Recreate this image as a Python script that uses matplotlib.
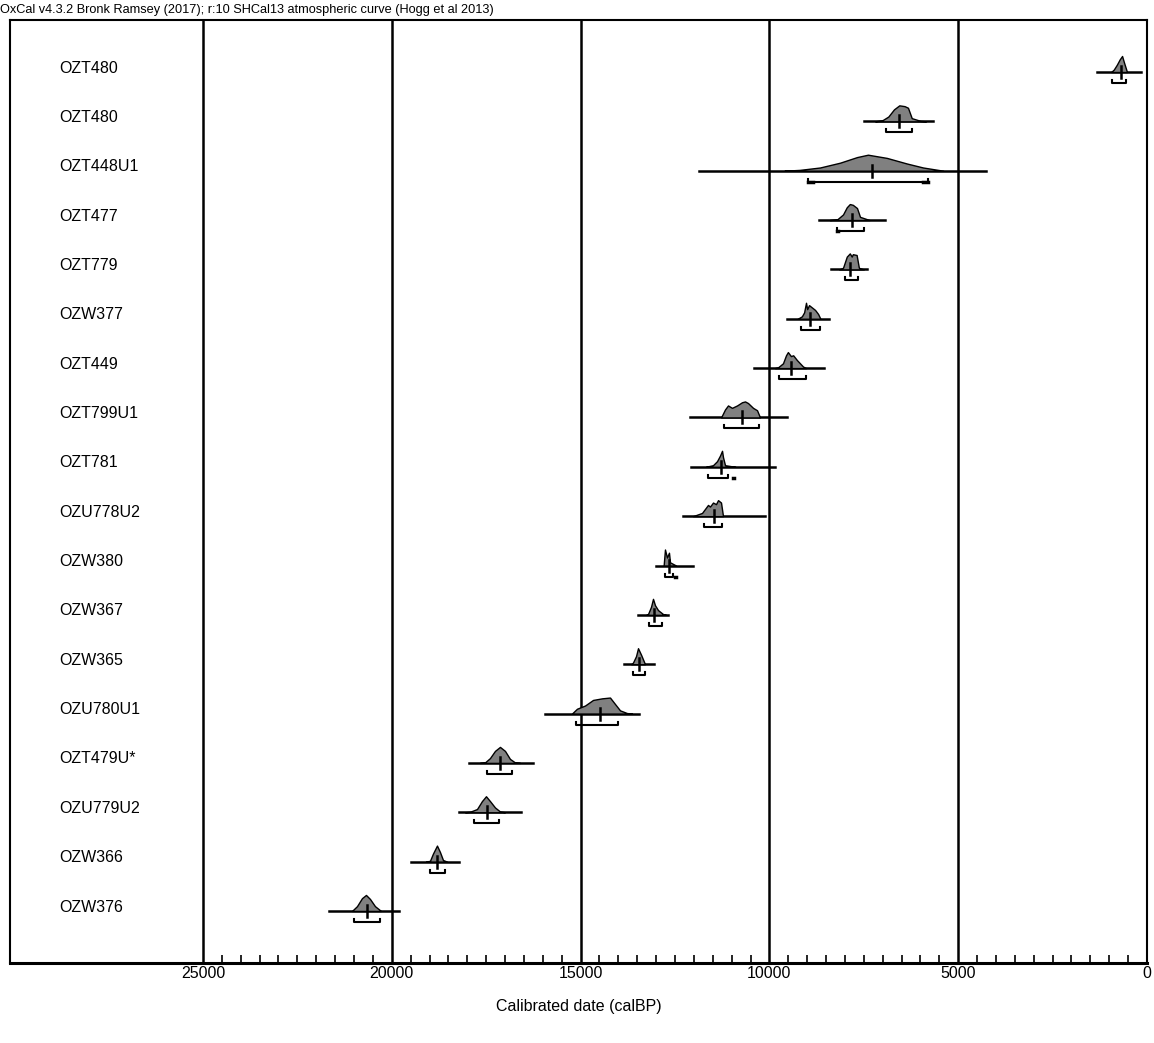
import numpy as np
import matplotlib
matplotlib.use('Agg')
import matplotlib.pyplot as plt
from matplotlib.ticker import FixedLocator

plt.rcParams['font.family'] = ['Liberation Sans', 'DejaVu Sans']

# sample names, top to bottom
labels = ['OZT480', 'OZT480', 'OZT448U1', 'OZT477', 'OZT779', 'OZW377', 'OZT449',
          'OZT799U1', 'OZT781', 'OZU778U2', 'OZW380', 'OZW367', 'OZW365',
          'OZU780U1', 'OZT479U*', 'OZU779U2', 'OZW366', 'OZW376']

# full range line (calBP)
line_lo = [1324, 7495, 11864, 8686, 8369, 9533, 10400, 12103, 12076, 12288,
           13003, 13480, 13851, 15943, 17956, 18220, 19491, 21663]
line_hi = [159, 5667, 4264, 6939, 7415, 8421, 8553, 9534, 9852, 10116,
           12023, 12685, 13056, 13453, 16261, 16578, 18220, 19809]
# median
median = [689, 6568, 7283, 7812, 7865, 8924, 9428, 10725, 11282, 11467,
          12659, 13056, 13453, 14486, 17135, 17479, 18803, 20657]
# 95% range bracket
brk_lo = [927, 6912, 8978, 8210, 7998, 9162, 9745, 11202, 11626, 11732,
          12765, 13188, 13612, 15122, 17479, 17823, 18988, 21001]
brk_hi = [556, 6224, 5800, 7495, 7654, 8659, 9030, 10275, 11096, 11255,
          12553, 12844, 13294, 14010, 16817, 17161, 18591, 20312]
# small separate bits of the range
extra_bits = [(2, 8978, 8845), (2, 5932, 5800), (3, 8210, 8180), (8, 10960, 10930),
              (10, 12500, 12470)]

# posterior shapes: (calBP, relative height)
profiles = [
    [(950, 0), (880, 0.15), (800, 0.45), (720, 0.8), (660, 1.0), (610, 0.6), (530, 0)],
    [(7200, 0), (7000, 0.08), (6850, 0.3), (6700, 0.75), (6560, 1.0), (6420, 0.95),
     (6330, 0.85), (6230, 0.2), (6000, 0.03), (5850, 0)],
    [(9600, 0), (9200, 0.05), (8660, 0.2), (8130, 0.5), (7680, 0.85), (7390, 1.0),
     (6890, 0.8), (6360, 0.45), (5930, 0.2), (5400, 0)],
    [(8400, 0), (8200, 0.05), (8050, 0.35), (7950, 0.8), (7870, 1.0), (7790, 0.95),
     (7680, 0.75), (7600, 0.2), (7350, 0)],
    [(8150, 0), (8050, 0.1), (7950, 0.8), (7870, 1.0), (7820, 0.8), (7790, 0.95),
     (7690, 0.9), (7630, 0.1), (7500, 0)],
    [(9250, 0), (9140, 0.15), (9080, 0.4), (9030, 1.0), (9000, 0.6), (8950, 0.85),
     (8870, 0.7), (8790, 0.55), (8710, 0.3), (8650, 0)],
    [(9850, 0), (9770, 0.05), (9640, 0.3), (9560, 0.8), (9510, 1.0), (9430, 0.75),
     (9370, 0.8), (9270, 0.5), (9190, 0.3), (9110, 0.1), (9030, 0)],
    [(11280, 0), (11175, 0.5), (11096, 0.75), (10990, 0.6), (10857, 0.75), (10725, 0.95),
     (10645, 1.0), (10566, 0.9), (10433, 0.6), (10327, 0.45), (10248, 0)],
    [(11680, 0), (11626, 0.03), (11493, 0.1), (11387, 0.35), (11308, 0.7), (11254, 1.0),
     (11228, 0.6), (11175, 0.1), (10963, 0.02), (10900, 0)],
    [(12022, 0), (11784, 0.2), (11705, 0.45), (11626, 0.7), (11573, 0.6), (11493, 0.85),
     (11414, 0.75), (11360, 1.0), (11281, 0.85), (11228, 0)],
    [(12800, 0), (12765, 1.0), (12712, 0.5), (12659, 0.8), (12632, 0.2), (12553, 0.1),
     (12473, 0)],
    [(13260, 0), (13214, 0.05), (13135, 0.5), (13082, 1.0), (13029, 0.6), (12950, 0.3),
     (12817, 0.05), (12738, 0)],
    [(13660, 0), (13612, 0.1), (13532, 0.5), (13479, 1.0), (13400, 0.6), (13347, 0.3),
     (13294, 0)],
    [(15228, 0), (15095, 0.3), (14883, 0.5), (14671, 0.85), (14433, 0.95), (14221, 1.0),
     (14089, 0.6), (13956, 0.2), (13771, 0.03), (13638, 0)],
    [(17664, 0), (17532, 0.03), (17400, 0.3), (17267, 0.75), (17135, 1.0), (17002, 0.75),
     (16870, 0.25), (16737, 0.03), (16605, 0)],
    [(18060, 0), (17929, 0.03), (17743, 0.2), (17611, 0.7), (17505, 1.0), (17400, 0.7),
     (17267, 0.3), (17135, 0.05), (17002, 0)],
    [(19094, 0), (18988, 0.05), (18909, 0.5), (18803, 1.0), (18724, 0.6), (18644, 0.1),
     (18538, 0)],
    [(21054, 0), (20921, 0.3), (20789, 0.8), (20683, 1.0), (20577, 0.75), (20445, 0.3),
     (20286, 0)],
]

major_ticks = [25000, 20000, 15000, 10000, 5000, 0]

fig = plt.figure(figsize=(11.54, 10.43), dpi=100)
ax = fig.add_axes([10 / 1154, 80 / 1043, 1137 / 1154, 943 / 1043])

row_px = 49.35
h = 16 / row_px      # peak height
bo = 11 / row_px     # bracket offset
bt = 3 / row_px      # bracket end height
mt = 6 / row_px      # median tick half length

for i, name in enumerate(labels):
    ax.text(28814, i - 0.08, name, fontsize=11.5, va='center', ha='left')
    ax.plot([line_lo[i], line_hi[i]], [i, i], color='black', lw=1.8, zorder=2)
    d = [p[0] for p in profiles[i]]
    v = np.array([p[1] for p in profiles[i]])
    ax.fill_between(d, i, i - h * v, facecolor='#808080', edgecolor='black', lw=1.0, zorder=3)
    ax.plot([median[i], median[i]], [i - mt, i + mt], color='black', lw=1.8, zorder=4)
    yb = i + bo
    ax.plot([brk_lo[i], brk_lo[i], brk_hi[i], brk_hi[i]], [yb - bt, yb, yb, yb - bt],
            color='black', lw=1.5, zorder=2)

for r, a, b in extra_bits:
    ax.plot([a, b], [r + bo, r + bo], color='black', lw=2.5, zorder=2)

for t in major_ticks[:-1]:
    ax.axvline(t, color='black', lw=1.8, zorder=1)

ax.set_xlim(30110, 0)
ax.set_ylim((963 - 72) / row_px, -52 / row_px)
ax.set_yticks([])
ax.set_xticks(major_ticks)
ax.set_xticklabels([str(t) for t in major_ticks], fontsize=11.5)
minors = [m for m in range(500, 25000, 500) if m % 5000 != 0]
ax.xaxis.set_minor_locator(FixedLocator(minors))
ax.tick_params(axis='x', which='major', length=0, pad=2)
ax.tick_params(axis='x', which='minor', direction='in', length=6, width=1.2)
for s in ax.spines.values():
    s.set_linewidth(1.5)
ax.spines['bottom'].set_linewidth(2.2)
ax.set_xlabel('Calibrated date (calBP)', fontsize=11.5, labelpad=13)

fig.text(0, 1 - 10 / 1043, 'OxCal v4.3.2 Bronk Ramsey (2017); r:10 SHCal13 atmospheric curve (Hogg et al 2013)',
         fontsize=9.2, va='center', ha='left')

fig.savefig('out.png', dpi=100)
